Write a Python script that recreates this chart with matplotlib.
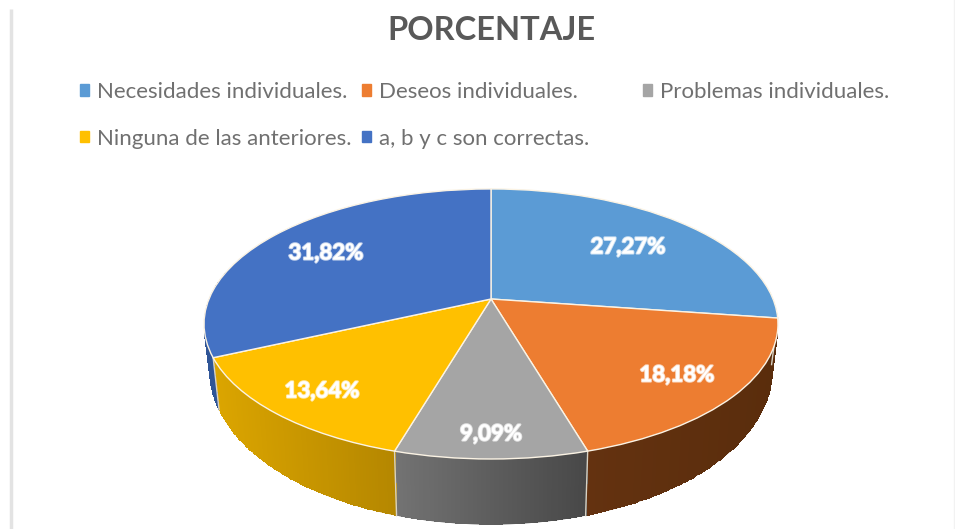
import numpy as np
import matplotlib
matplotlib.use("Agg")
import matplotlib.pyplot as plt
import matplotlib.patheffects as pe
from matplotlib.colors import LinearSegmentedColormap
from matplotlib.patches import Patch
from matplotlib.transforms import Transform

categories = ["Necesidades individuales.", "Deseos individuales.", "Problemas individuales.",
              "Ninguna de las anteriores.", "a, b y c son correctas."]
values = [27.27, 18.18, 9.09, 13.64, 31.82]
colors = ["#5B9BD5", "#ED7D31", "#A5A5A5", "#FFC000", "#4472C4"]
title = "PORCENTAJE"

FONT = "Lato"
W, H = 955, 529


class PieView(Transform):
    """Perspective view of the unit-circle pie, giving figure pixels."""
    input_dims = 2
    output_dims = 2
    is_separable = False
    has_inverse = False

    def __init__(self, x0, y0, a, k, d):
        super().__init__()
        self.x0, self.y0, self.a, self.k, self.d = x0, y0, a, k, d

    def transform_non_affine(self, values):
        values = np.asarray(values, dtype=float)
        u, v = values[:, 0], values[:, 1]
        w = 1 + self.d * v
        return np.column_stack((self.x0 + self.a * u / w, self.y0 - self.k * v / w))


fig = plt.figure(figsize=(W / 100, H / 100), dpi=100, facecolor="white")
ax = fig.add_axes([0, 0, 1, 1])

wedges, _ = ax.pie(values, colors=colors, startangle=90, counterclock=False,
                   wedgeprops=dict(edgecolor="#FBF3E4", linewidth=1.0, zorder=5))
ax.set_aspect("auto")
ax.set_xlim(0, W)
ax.set_ylim(H, 0)
ax.axis("off")

top_view = PieView(491, 299, 282, 130.4, 0.185)
bottom_view = PieView(491, 343, 276, 148, 0.185)
for w in wedges:
    w.set_transform(top_view + ax.transData)

# side wall of the pie, from the same cumulative values
rim_colors = [("#2E75B6", "#2E75B6"), ("#643210", "#5A2D0C"), ("#737373", "#484848"),
              ("#DBA500", "#B58700"), ("#2F5597", "#2F5597")]
edges = np.concatenate(([0], np.cumsum(values))) / np.sum(values) * 360
for i in range(len(values)):
    t0, t1 = max(edges[i], 85), min(edges[i + 1], 285)
    if t1 <= t0:
        continue
    th = np.radians(np.linspace(t0, t1, 90))
    uv = np.column_stack((np.sin(th), np.cos(th)))
    top = top_view.transform_non_affine(uv)
    bot = bottom_view.transform_non_affine(uv)
    X = np.vstack((top[:, 0], bot[:, 0]))
    Y = np.vstack((top[:, 1], bot[:, 1]))
    c0, c1 = rim_colors[i]
    cmap = LinearSegmentedColormap.from_list(f"rim{i}", [c0, c1])
    C = (X[0, :-1] - X[0].min()) / max(np.ptp(X[0]), 1)
    # soft polygon below gives smooth outer edges; the mesh above carries the gradient
    ax.fill(np.r_[top[:, 0], bot[::-1, 0]], np.r_[top[:, 1], bot[::-1, 1]],
            color=cmap(0.5), lw=0, zorder=2)
    ax.pcolormesh(X, Y, C[None, :], cmap=cmap, shading="flat", vmin=0, vmax=1,
                  zorder=2.5, antialiased=False)
    if 90 < edges[i] < 270:
        ax.plot([top[0, 0], bot[0, 0]], [top[0, 1], bot[0, 1]], color="#D8D2C4", lw=1.0, zorder=3)

# data labels
label_xy = [(628, 247), (677, 375), (491, 434), (322, 391), (326, 253)]
for val, (x, y) in zip(values, label_xy):
    ax.text(x, y, f"{val:.2f}%".replace(".", ","), color="white", fontsize=16, fontweight="bold",
            family=FONT, ha="center", va="center", zorder=6,
            path_effects=[pe.withStroke(linewidth=1.5, foreground="white", alpha=0.7)])

# title
ax.text(491, 30, title, color="#595959", fontsize=23.5, fontweight="bold", family=FONT,
        ha="center", va="center")

# legend: three columns placed separately, as in the source layout
columns = [((80, 82), [0, 3]), ((362, 82), [1, 4]), ((643, 82), [2])]
for (x, y), idx in columns:
    leg = ax.legend(handles=[Patch(color=colors[i], label=categories[i]) for i in idx],
                    loc="upper left", bbox_to_anchor=(x, y), bbox_transform=ax.transData,
                    frameon=False, handlelength=0.4, handleheight=0.4, handletextpad=0.36,
                    labelspacing=1.2, borderpad=0, borderaxespad=0,
                    prop=dict(family=FONT, size=16), labelcolor="#707070")
    ax.add_artist(leg)
ax.legend_ = None

# frame traces at the edges of the source screenshot
ax.plot([11, 11], [9, H], color="#E3E3E3", lw=2.5, zorder=1, solid_capstyle="butt")
ax.plot([953.5, 953.5], [0, H], color="#F2F2F2", lw=1, zorder=1)

fig.savefig("out.png", dpi=100, facecolor="white")
